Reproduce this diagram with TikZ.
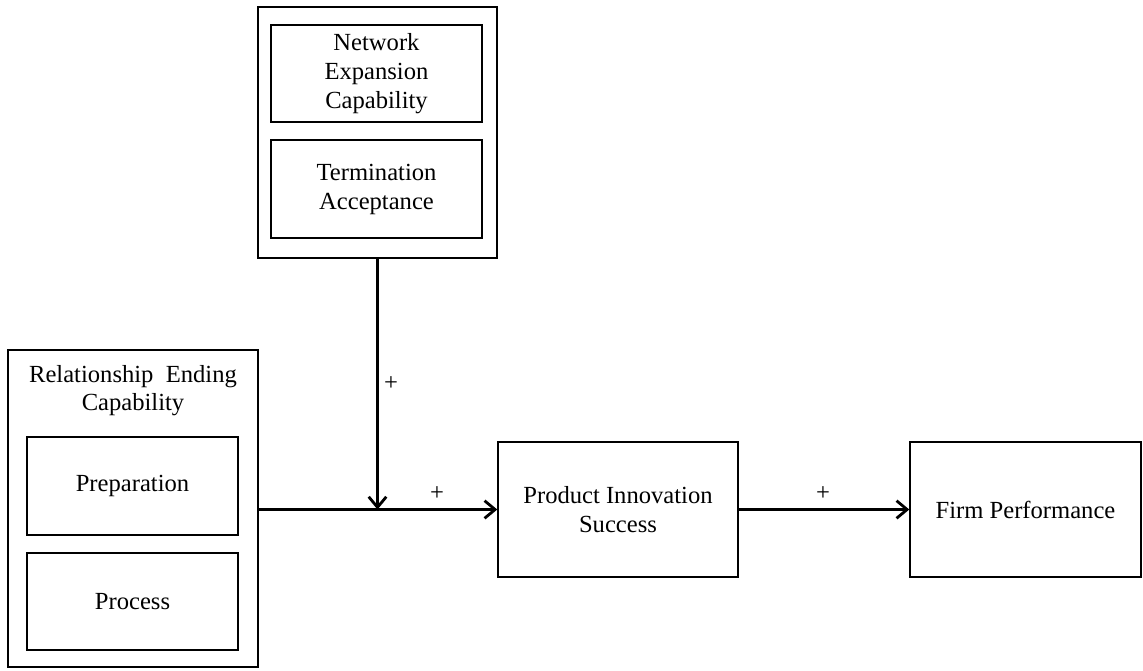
\documentclass[tikz,border=0pt]{standalone}
\usepackage{fontspec}
\setmainfont{Liberation Serif}
\usetikzlibrary{arrows.meta}
\def\pix{0.02cm}
\tikzset{box/.style={draw, line width=0.8pt, align=center, inner sep=0pt,
  font=\fontsize{14}{16.5}\selectfont},
  size/.style 2 args={minimum width=#1*\pix, minimum height=#2*\pix},
  link/.style={line width=1.6pt, -{Straight Barb[length=6pt,width=10pt,line width=1.6pt]}},
  sign/.style={font=\fontsize{14}{16}\selectfont}}
\begin{document}
\begin{tikzpicture}[x=\pix,y=-\pix]
\pgfmathsetmacro{\w}{211};
\useasboundingbox (0,0) rectangle (1143,670);
\node[box, size={239}{251}] (mod) at (377.5,132.5) {};
\node[box, size={\w}{97}] (nec) at (376.5,73.5) {Network\\Expansion\\Capability};
\node[box, size={\w}{98}] (ta) at (376.5,189) {Termination\\Acceptance};

\node[box, size={250}{317}] (rec) at (133,508.5) {};
\node[sign, align=center, anchor=north] (rectitle) at (133,359) {Relationship\ \ Ending\\Capability};
\node[box, size={\w}{98}] (prep) at (132.5,486) {Preparation};
\node[box, size={\w}{97}] (proc) at (132.5,601.5) {Process};

\node[box, size={240}{135}] (pis) at (618,509.5) {Product Innovation\\Success};
\node[box, size={231}{135}] (fp) at (1025.5,509.5) {Firm Performance};

\coordinate (j) at (mod.south |- pis.west);
\draw[line width=1.6pt] (rec.east |- pis.west) -- (j);
\draw[link] (j) -- (pis.west);
\draw[link] (mod.south) -- (j);
\draw[link] (pis.east) -- (fp.west);
\node[sign] (p1) at (391,384) {+};
\node[sign] (p2) at (437,494) {+};
\node[sign] (p3) at (823,494) {+};
\end{tikzpicture}
\end{document}
